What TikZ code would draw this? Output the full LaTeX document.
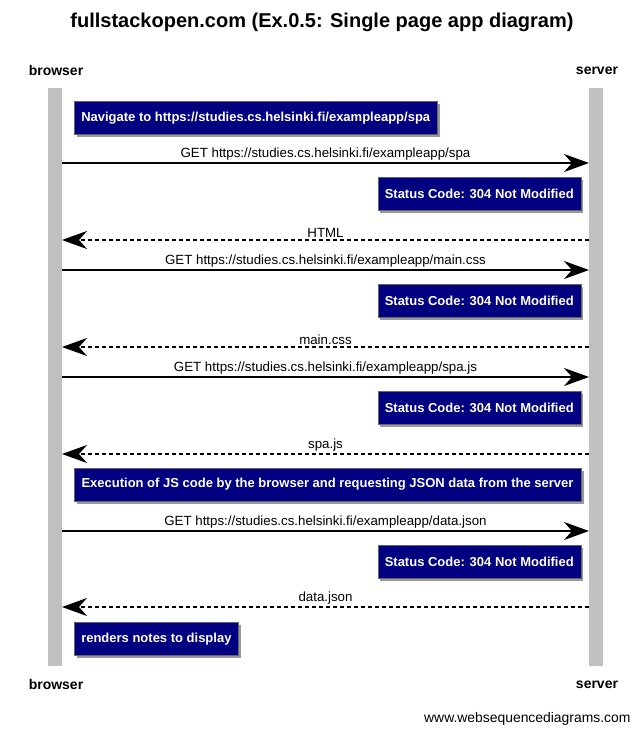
\documentclass[tikz,border=0pt]{standalone}
\usepackage{fontspec}
\setmainfont{Liberation Sans}
\usetikzlibrary{arrows.meta,shadows}
\definecolor{notebg}{HTML}{000080}
\definecolor{barcol}{HTML}{C0C0C0}
\tikzset{
  lifebar/.style={fill=barcol,draw=none},
  actor/.style={font=\fontsize{14}{16}\selectfont\bfseries,inner sep=0pt},
  note/.style={fill=notebg,draw=black!60,line width=0.5pt,text=white,
    font=\fontsize{13}{15}\selectfont\bfseries,minimum height=33pt,inner xsep=7pt,
    drop shadow={shadow xshift=2.5pt,shadow yshift=-2.5pt,fill=black!40,opacity=1}},
  msg/.style={line width=1.6pt,-{Stealth[length=25pt,width=18pt,inset=8pt]}},
  reply/.style={msg,dash pattern=on 4pt off 3pt},
  lbl/.style={font=\fontsize{13.3}{15}\selectfont,inner sep=0pt,anchor=base}
}
\begin{document}
\begin{tikzpicture}[x=1pt,y=-1pt]
\useasboundingbox[fill=white] (0,0) rectangle (644,734);
\node[font=\fontsize{20}{24}\selectfont\bfseries] (title) at (322,22) {fullstackopen.com (Ex.0.5: Single page app diagram)};
% lifelines
\fill[lifebar] (48,88) rectangle (62,666);
\fill[lifebar] (589,88) rectangle (603,666);
\node[actor] (bt) at (56,70.5) {browser};
\node[actor] (st) at (597,70.5) {server};
\node[actor] (bb) at (56,684.5) {browser};
\node[actor] (sb) at (597,684.5) {server};
% coordinates
\foreach \n/\y in {1/163,2/240,3/270,4/347,5/377,6/454,7/531,8/607}{
  \coordinate (b\n) at (62,\y);
  \coordinate (s\n) at (589,\y);
}
\node[note,anchor=west] (n1) at (74,118) {Navigate to https://studies.cs.helsinki.fi/exampleapp/spa};
\draw[msg] (b1) -- node[lbl,above=1.5pt] {GET https://studies.cs.helsinki.fi/exampleapp/spa} (s1);
\node[note,anchor=east] (n2) at (581,194) {Status Code: 304 Not Modified};
\draw[reply] (s2) -- node[lbl,above=1.5pt] {HTML} (b2);
\draw[msg] (b3) -- node[lbl,above=1.5pt] {GET https://studies.cs.helsinki.fi/exampleapp/main.css} (s3);
\node[note,anchor=east] (n3) at (581,301) {Status Code: 304 Not Modified};
\draw[reply] (s4) -- node[lbl,above=1.5pt] {main.css} (b4);
\draw[msg] (b5) -- node[lbl,above=1.5pt] {GET https://studies.cs.helsinki.fi/exampleapp/spa.js} (s5);
\node[note,anchor=east] (n4) at (581,408) {Status Code: 304 Not Modified};
\draw[reply] (s6) -- node[lbl,above=1.5pt] {spa.js} (b6);
\node[note,anchor=center,minimum width=507pt] (n5) at (327.5,484.5) {Execution of JS code by the browser and requesting JSON data from the server};
\draw[msg] (b7) -- node[lbl,above=1.5pt] {GET https://studies.cs.helsinki.fi/exampleapp/data.json} (s7);
\node[note,anchor=east] (n6) at (581,562) {Status Code: 304 Not Modified};
\draw[reply] (s8) -- node[lbl,above=1.5pt] {data.json} (b8);
\node[note,anchor=west] (n7) at (74,639) {renders notes to display};
\node[font=\fontsize{13.9}{16}\selectfont,anchor=east] (wsd) at (634,718.5) {www.websequencediagrams.com};
\end{tikzpicture}
\end{document}
